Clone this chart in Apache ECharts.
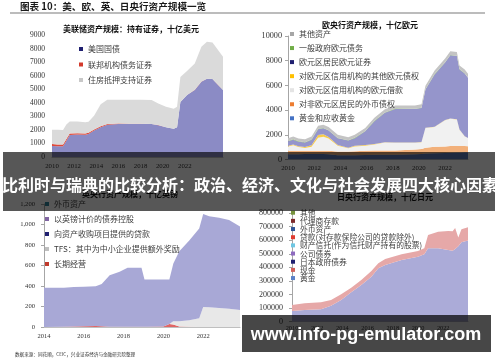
<!DOCTYPE html>
<html><head><meta charset="utf-8">
<script src="https://cdn.jsdelivr.net/npm/echarts@6/dist/echarts.min.js"></script>
<style>html,body{margin:0;padding:0;background:#fff;}#c{width:500px;height:362px;}</style>
</head><body><div id="c"></div>
<script>
// ---------- Fed (十亿美元) ----------
const fedYears    = [2010.0,2010.5,2011.0,2011.3,2011.6,2012.3,2013.0,2013.3,2013.8,2014.4,2015.0,2016.0,2017.0,2018.0,2019.0,2019.6,2020.3,2021.0,2021.3,2021.6,2022.2,2022.9,2023.5,2024.0,2024.5,2025.0,2025.45];
const fedTreasury = [820,800,800,1200,1620,1660,1650,1700,1950,2200,2380,2440,2440,2440,2430,2350,2200,2080,2200,4050,4580,4950,5560,5770,5750,5320,4950];
const fedAgency   = [130,130,120,120,110,100,90,80,70,60,50,35,20,10,5,2,2,2,2,2,2,2,2,2,2,2,2];
const fedMBS      = [1060,1080,1080,1080,890,860,820,820,1030,1640,1790,1755,1770,1780,1765,1600,1500,1470,1500,1850,1770,1950,2580,2730,2700,2570,2450];
const fedYTicks   = [0,9000,1000];

// ---------- ECB (十亿欧元) ----------
const ecbYears      = [2010.0,2010.4,2010.8,2011.3,2011.8,2012.3,2012.7,2013.1,2013.8,2014.6,2015.1,2015.9,2016.6,2017.4,2018.2,2019.7,2020.2,2020.5,2021.2,2022.0,2022.4,2022.9,2023.1,2023.5,2023.75];
const ecbGold       = [420,430,430,440,450,450,440,420,350,340,350,370,380,380,380,420,450,480,500,520,550,560,570,580,580];
const ecbFxClaims   = [290,280,280,270,260,260,270,290,300,310,320,330,340,350,350,380,400,480,540,540,540,530,520,510,500];
const ecbLending    = [340,450,310,230,330,1050,1140,990,460,260,380,420,500,650,630,550,540,1590,1590,2120,2200,2140,1320,770,650];
const ecbOtherClaim = [60,60,60,70,120,220,190,120,60,50,60,60,40,20,20,20,20,20,20,20,20,20,20,20,20];
const ecbSecurities = [360,380,360,360,420,470,490,520,550,575,620,1100,1840,2380,2710,2710,2750,3090,4240,4650,5130,5130,4860,5080,4860];
const ecbGovDebt    = [30,30,30,30,30,30,30,30,30,30,30,30,30,30,30,30,30,30,30,30,30,30,30,30,30];
const ecbOtherAsset = [230,230,230,240,250,260,260,260,250,240,240,240,250,250,260,270,280,280,290,290,300,300,300,300,300];
const ecbYTicks     = [0,10000,2000];

// ---------- BoE (十亿英镑) ----------
const boeYears   = [2014.0,2015.0,2015.5,2016.0,2016.6,2016.9,2017.3,2017.8,2018.2,2018.9,2019.05,2019.2,2020.0,2020.3,2020.5,2020.8,2021.3,2021.8,2022.0,2022.3,2022.8,2023.3,2023.85];
const boeLongOps = [0,2,5,8,10,8,3,2,2,2,2,2,5,30,25,5,2,0,0,0,0,0,0];
const boeTFS     = [0,0,0,0,0,0,0,0,0,0,0,0,0,0,30,50,65,85,195,192,185,178,165];
const boeAPFLoan = [382,380,385,384,388,412,503,536,575,575,461,461,458,433,565,685,778,875,908,888,880,867,815];
const boeBonds   = [0,0,0,0,0,0,0,0,0,0,0,0,0,0,0,0,0,0,0,0,0,0,0];
const boeFx      = [0,0,0,0,0,0,0,0,0,0,0,0,0,0,0,0,0,0,0,0,0,0,0];
const boeYTicks  = [0,1200,200];

// ---------- BoJ (十亿日元) ----------
const bojYears = [2010.0,2011.0,2012.3,2013.1,2013.9,2014.7,2015.5,2016.3,2016.85,2017.4,2018.7,2020.0,2020.5,2020.8,2021.6,2022.4,2022.75,2022.95,2023.2,2023.45,2023.97];
const bojGold  = [0,0,0,0,0,0,0,0,0,0,0,0,0,0,0,0,0,0,0,0,0];
const bojCash  = [0,0,0,0,0,0,0,0,0,0,0,0,0,0,0,0,0,0,0,0,0];
const bojJGB   = [79000,86000,91000,118000,160000,216000,270000,331000,393000,417000,454000,478000,496000,540000,540000,528000,522000,535000,555000,585000,598000];
const bojCorp  = [0,0,0,0,0,0,0,0,0,0,0,0,0,0,0,0,0,0,0,0,0];
const bojTrust = [0,0,0,0,0,0,0,0,0,0,0,0,0,0,0,0,0,0,0,0,0];
const bojLoans = [44000,49000,52000,42000,42000,34000,37000,42000,37000,44000,42000,42000,44000,98000,122000,139000,143000,155000,65000,95000,97000];
const bojFx    = [0,0,0,0,0,0,0,0,0,0,0,0,0,0,0,0,0,0,0,0,0];
const bojAgent = [0,0,0,0,0,0,0,0,0,0,0,0,0,0,0,0,0,0,0,0,0];
const bojOther = [0,0,0,0,0,0,0,0,0,0,0,0,0,0,0,0,0,0,0,0,0];
const bojYTicks = [0,800000,100000];

const xLabels = [2010,2012,2014,2016,2018,2020,2022];

// ---------- build ----------
const serif = 'Liberation Serif';
const cjk = 'Noto Sans CJK SC';
const ZW = '\u200b';

// data stored as [value, year] with encode so the value dimension is the stacked one
function area(name, xs, ys, gi, fill, icon) {
  return {
    type: 'line', name: name, xAxisIndex: gi, yAxisIndex: gi, stack: 'p' + gi,
    data: xs.map((x, i) => [ys[i], x]),
    encode: { x: 1, y: 0 },
    symbol: 'none', showSymbol: false, silent: true, animation: false,
    lineStyle: { width: 0, opacity: 0 },
    areaStyle: { color: fill, opacity: 1 },
    itemStyle: { color: icon },
    emphasis: { disabled: true }
  };
}

const series = [
  area('美国国债', fedYears, fedTreasury, 0, '#8b8bc5', '#1f1f70'),
  area('联邦机构债务证券', fedYears, fedAgency, 0, '#e04a3a', '#d33a2c'),
  area('住房抵押支持证券', fedYears, fedMBS, 0, '#dadada', '#c8c8c8'),

  area('黄金和应收黄金', ecbYears, ecbGold, 1, '#5b79b8', '#4472c4'),
  area('对非欧元区居民的外币债权', ecbYears, ecbFxClaims, 1, '#f2b07a', '#ed7d31'),
  area('对欧元区信用机构的欧元借款', ecbYears, ecbLending, 1, '#f1f1f1', '#e4e4e4'),
  area('对欧元区信用机构的其他欧元债权', ecbYears, ecbOtherClaim, 1, '#f8cc4a', '#ffc000'),
  area('欧元区居民欧元证券', ecbYears, ecbSecurities, 1, '#9595cb', '#1f1f70'),
  area('一般政府欧元债务', ecbYears, ecbGovDebt, 1, '#70ad47', '#70ad47'),
  area('其他资产', ecbYears, ecbOtherAsset, 1, '#c4c4c4', '#a6a6a6'),

  area('长期经营', boeYears, boeLongOps, 2, '#e06666', '#c0392b'),
  area('TFS：其中为中小企业提供额外奖励', boeYears, boeTFS, 2, '#e8e8e8', '#bfbfbf'),
  area('向资产收购项目提供的贷款', boeYears, boeAPFLoan, 2, '#a8a8d6', '#1f1f70'),
  area('以英镑计价的债券控股', boeYears, boeBonds, 2, '#b3a2c7', '#8064a2'),
  area('外币资产', boeYears, boeFx, 2, '#4bacc6', '#31859c'),

  area('黄金', bojYears, bojGold, 3, '#5a82c8', '#5a82c8'),
  area('现金', bojYears, bojCash, 3, '#d0605a', '#d0605a'),
  area('日本政府债券', bojYears, bojJGB, 3, '#ababd8', '#1f1f70'),
  area('公司债券', bojYears, bojCorp, 3, '#8e6bbf', '#8e6bbf'),
  area('财产信托(作为信托财产持有的股票)', bojYears, bojTrust, 3, '#6fc7e3', '#6fc7e3'),
  area('贷款(对存款保险公司的贷款除外)', bojYears, bojLoans, 3, '#e6a8a8', '#e03c31'),
  area('外币资产' + ZW, bojYears, bojFx, 3, '#2f5597', '#2f5597'),
  area('代理商存款', bojYears, bojAgent, 3, '#7f2b2b', '#7f2b2b'),
  area('其他', bojYears, bojOther, 3, '#76923c', '#76923c')
];

const grids = [
  { left: 52, top: 35, width: 171, height: 122 },
  { left: 288, top: 36, width: 180, height: 123.5 },
  { left: 44, top: 204, width: 196, height: 123 },
  { left: 292, top: 213, width: 176, height: 108.7 }
];

function xAxis(gi, min, max, fs, margin) {
  return {
    type: 'value', gridIndex: gi, min: min, max: max, interval: 2,
    axisLine: { show: true, lineStyle: { color: '#bfbfbf', width: 1 } },
    axisTick: { show: false }, splitLine: { show: false },
    axisLabel: { fontFamily: serif, fontSize: fs, color: '#333', margin: margin,
      formatter: v => (xLabels.indexOf(v) >= 0 ? String(v) : '') }
  };
}
function yAxis(gi, ticks, fs, margin, showLine, fmt) {
  return {
    type: 'value', gridIndex: gi, min: ticks[0], max: ticks[1], interval: ticks[2],
    axisLine: { show: showLine, lineStyle: { color: '#a6a6a6', width: 1 } },
    axisTick: { show: showLine, length: 3, inside: false, lineStyle: { color: '#a6a6a6' } },
    splitLine: { show: false },
    axisLabel: { fontFamily: serif, fontSize: fs, color: '#333', margin: margin, formatter: fmt }
  };
}
const comma = v => v.toLocaleString('en-US');

function legend(names, left, top, gap, fs, lh) {
  return {
    orient: 'vertical', left: left, top: top, itemGap: gap, padding: 0,
    itemWidth: 4, itemHeight: 4, icon: 'rect', selectedMode: false,
    textStyle: { fontFamily: cjk, fontSize: fs, color: '#404040', lineHeight: lh },
    formatter: n => n.replace(/\u200b/g, ''),
    data: names
  };
}

const option = {
  animation: false,
  backgroundColor: '#ffffff',
  textStyle: { fontFamily: cjk },
  grid: grids,
  xAxis: [
    xAxis(0, 2010, 2025.45, 6.8, 6),
    xAxis(1, 2010, 2023.75, 6.8, 5),
    xAxis(2, 2014, 2023.85, 6.5, 5.5),
    xAxis(3, 2010, 2023.97, 6.3, 4)
  ],
  yAxis: [
    yAxis(0, fedYTicks, 7.5, 7, false, v => String(v)),
    yAxis(1, ecbYTicks, 8.2, 6, true, v => String(v)),
    yAxis(2, boeYTicks, 6.6, 9, true, comma),
    yAxis(3, bojYTicks, 8, 9, true, v => String(v))
  ],
  legend: [
    legend(['美国国债', '联邦机构债务证券', '住房抵押支持证券'], 79, 44, 5.5, 8, 10),
    legend(['其他资产', '一般政府欧元债务', '欧元区居民欧元证券', '对欧元区信用机构的其他欧元债权',
            '对欧元区信用机构的欧元借款', '对非欧元区居民的外币债权', '黄金和应收黄金'], 290, 29, 4.05, 8, 10),
    legend(['外币资产', '以英镑计价的债券控股', '向资产收购项目提供的贷款',
            'TFS：其中为中小企业提供额外奖励', '长期经营'], 45, 199, 5, 8, 10),
    legend(['其他', '代理商存款', '外币资产' + ZW, '贷款(对存款保险公司的贷款除外)', '财产信托(作为信托财产持有的股票)',
            '公司债券', '日本政府债券', '现金', '黄金'], 291, 208.7, 0.17, 7.8, 8)
  ],
  series: series,
  graphic: [
    { type: 'text', x: 20, y: 6, z: 50, silent: true,
      style: { text: '图表 10：美、欧、英、日央行资产规模一览', fill: '#1a1a1a', font: 'bold 9.6px "Noto Sans CJK SC"',
               textAlign: 'left', textVerticalAlign: 'middle', verticalAlign: 'middle' } },
    { type: 'line', z: 50, silent: true, shape: { x1: 10, y1: 13, x2: 485, y2: 13 },
      style: { stroke: '#a6a6a6', lineWidth: 1.5 } },
    { type: 'text', x: 131, y: 29, z: 50, silent: true,
      style: { text: '美联储资产规模：持有证券，十亿美元', fill: '#111', font: 'bold 8px "Noto Sans CJK SC"',
               textAlign: 'center', textVerticalAlign: 'middle', verticalAlign: 'middle' } },
    { type: 'text', x: 370, y: 25, z: 50, silent: true,
      style: { text: '欧央行资产规模，十亿欧元', fill: '#111', font: 'bold 8px "Noto Sans CJK SC"',
               textAlign: 'center', textVerticalAlign: 'middle', verticalAlign: 'middle' } },
    { type: 'text', x: 130, y: 194, z: 50, silent: true,
      style: { text: '英央行资产规模，十亿英镑', fill: '#111', font: 'bold 8px "Noto Sans CJK SC"',
               textAlign: 'center', textVerticalAlign: 'middle', verticalAlign: 'middle' } },
    { type: 'text', x: 385, y: 197, z: 50, silent: true,
      style: { text: '日央行资产规模，十亿日元', fill: '#111', font: 'bold 8px "Noto Sans CJK SC"',
               textAlign: 'center', textVerticalAlign: 'middle', verticalAlign: 'middle' } },
    { type: 'text', x: 15, y: 354, z: 50, silent: true,
      style: { text: '数据来源：同花顺，CEIC，兴业证券经济与金融研究院整理', fill: '#333', font: '4.6px "Noto Sans CJK SC"',
               textAlign: 'left', textVerticalAlign: 'middle', verticalAlign: 'middle' } },
    { type: 'rect', z: 100, silent: true, shape: { x: 3, y: 152, width: 492, height: 59 },
      style: { fill: 'rgba(0,0,0,0.66)' } },
    { type: 'text', x: 250, y: 185, z: 101, silent: true,
      style: { text: '比利时与瑞典的比较分析：政治、经济、文化与社会发展四大核心因素', fill: '#ffffff',
               font: 'bold 16px "Noto Sans CJK SC"', textAlign: 'center', textVerticalAlign: 'middle', verticalAlign: 'middle' } },
    { type: 'rect', z: 100, silent: true, shape: { x: 242, y: 315, width: 249, height: 37 },
      style: { fill: 'rgba(0,0,0,0.72)' } },
    { type: 'text', x: 366, y: 335, z: 101, silent: true,
      style: { text: 'www.info-pg-emulator.com', fill: '#ffffff',
               font: 'bold 18px "Liberation Sans"', textAlign: 'center', textVerticalAlign: 'middle', verticalAlign: 'middle' } }
  ]
};

const chart = echarts.init(document.getElementById('c'), null, { renderer: 'canvas', width: 500, height: 362 });
chart.setOption(option);
</script>
</body></html>
